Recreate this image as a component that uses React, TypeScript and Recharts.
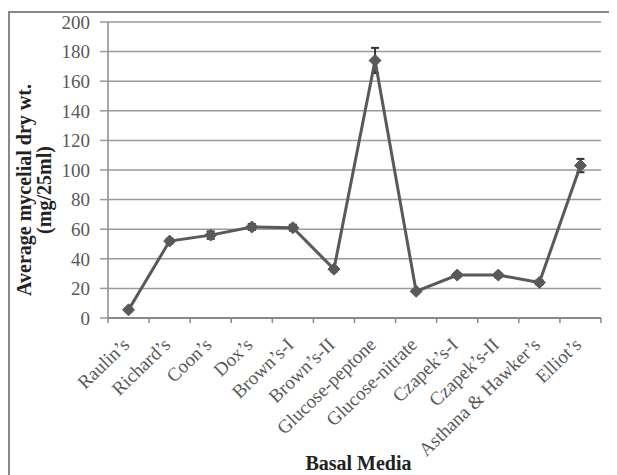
import { CartesianGrid, ErrorBar, Line, LineChart, XAxis, YAxis } from "recharts";

const media = [
  "Raulin\u2019s",
  "Richard\u2019s",
  "Coon\u2019s",
  "Dox\u2019s",
  "Brown\u2019s-I",
  "Brown\u2019s-II",
  "Glucose-peptone",
  "Glucose-nitrate",
  "Czapek\u2019s-I",
  "Czapek\u2019s-II",
  "Asthana & Hawker\u2019s",
  "Elliot\u2019s",
];
const dryWeight = [5.5, 52, 56, 61.5, 61, 33, 174, 18, 29, 29, 24, 103];
const stdError = [1, 1.5, 2.5, 2, 2, 1.5, 8.5, 1, 1.5, 1.5, 1.5, 4.5];
const yTicks = [0, 20, 40, 60, 80, 100, 120, 140, 160, 180, 200];

const data = media.map((name, i) => ({
  x: i + 0.5,
  name,
  weight: dryWeight[i],
  err: stdError[i],
}));

const xTicks: number[] = [];
for (let i = 0; i <= media.length * 2; i++) xTicks.push(i / 2);

const serif = "'Liberation Serif', 'Times New Roman', serif";
const ink = "#595959";

function MediaTick(props: any) {
  const { x, y, payload } = props;
  const v = payload.value as number;
  if (Number.isInteger(v)) {
    return <line x1={x} y1={y} x2={x} y2={y + 5} stroke="#888" strokeWidth={1.5} />;
  }
  const label = media[Math.floor(v)];
  const tx = x + 2;
  const ty = y + 28;
  return (
    <text
      x={tx}
      y={ty}
      textAnchor="end"
      transform={`rotate(-44, ${tx}, ${ty})`}
      fontFamily={serif}
      fontSize={19}
      fill={ink}
    >
      {label}
    </text>
  );
}

function Diamond(props: any) {
  const { cx, cy } = props;
  if (cx == null || cy == null) return null;
  const r = 6;
  return (
    <polygon
      points={`${cx},${cy - r} ${cx + r},${cy} ${cx},${cy + r} ${cx - r},${cy}`}
      fill={ink}
      stroke={ink}
    />
  );
}

function YTitle(props: any) {
  const { viewBox } = props;
  const cy = viewBox.y + viewBox.height / 2 + 20;
  return (
    <g fontFamily={serif} fontSize={20} fontWeight="bold" fill="#222" textAnchor="middle">
      <text x={23} y={cy} transform={`rotate(-90, 23, ${cy})`}>
        Average mycelial dry wt.
      </text>
      <text x={43} y={cy} transform={`rotate(-90, 43, ${cy})`}>
        (mg/25ml)
      </text>
    </g>
  );
}

export default function App() {
  return (
    <div style={{ position: "relative", width: 609, height: 467 }}>
      <div
        style={{
          position: "absolute",
          left: 0,
          top: 3,
          width: 609,
          height: 464,
          borderTop: "2px solid #888",
          borderLeft: "2px solid #888",
          boxSizing: "border-box",
        }}
      />
      <div style={{ position: "absolute", left: 0, top: 0 }}>
        <LineChart
          width={609}
          height={467}
          data={data}
          margin={{ top: 14, right: 16, left: 0, bottom: 0 }}
        >
          <CartesianGrid vertical={false} stroke="#9a9a9a" strokeWidth={1.5} />
          <XAxis
            dataKey="x"
            type="number"
            domain={[0, media.length]}
            ticks={xTicks}
            interval={0}
            tickLine={false}
            tickSize={0}
            tickMargin={0}
            tick={<MediaTick />}
            height={157}
            axisLine={{ stroke: "#888", strokeWidth: 2 }}
            label={{
              value: "Basal Media",
              position: "insideBottom",
              offset: 0,
              dy: -5,
              dx: 4,
              style: { fontFamily: serif, fontSize: 20, fontWeight: "bold", fill: "#222" },
            }}
          />
          <YAxis
            type="number"
            domain={[0, 200]}
            ticks={yTicks}
            width={100}
            tickSize={8}
            tickMargin={10}
            tickLine={{ stroke: "#9a9a9a", strokeWidth: 1.5 }}
            axisLine={{ stroke: "#888", strokeWidth: 1.5 }}
            tick={{ fontFamily: serif, fontSize: 19, fill: ink }}
            label={<YTitle />}
          />
          <Line
            dataKey="weight"
            stroke={ink}
            strokeWidth={3}
            dot={<Diamond />}
            activeDot={false}
            isAnimationActive={false}
          >
            <ErrorBar dataKey="err" direction="y" width={4} stroke="#333" strokeWidth={2} />
          </Line>
        </LineChart>
      </div>
    </div>
  );
}
